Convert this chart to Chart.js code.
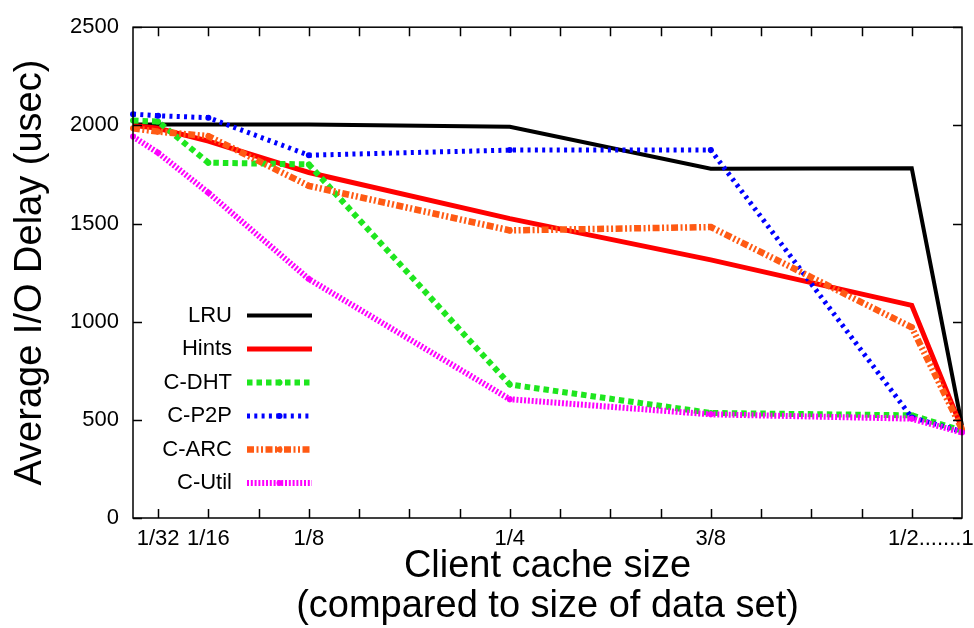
<!DOCTYPE html>
<html>
<head>
<meta charset="utf-8">
<script src="https://cdn.jsdelivr.net/npm/chart.js@4.4.1/dist/chart.umd.min.js"></script>
<style>
    html, body { margin: 0; padding: 0; background: #fff; }
</style>
</head>
<body>
<canvas id="chart" width="974" height="628"></canvas>
<script>
// client cache size, compared to the size of the data set
const cacheSizes = ["1/64", "1/32", "1/16", "1/8", "1/4", "3/8", "1/2", "1"];
// where each size sits on the x axis, counted in 1/32 steps ("1" is drawn one step past 1/2)
const cacheSteps = [0.5, 1, 2, 4, 8, 12, 16, 17];

// average I/O delay (usec)
const lru    = [2005, 2005, 2005, 2005, 1993, 1779, 1781, 470];
const hints  = [2000, 1985, 1920, 1760, 1525, 1315, 1083, 455];
const cDht   = [2025, 2019, 1810, 1801, 680, 535, 523, 445];
const cP2p   = [2057, 2049, 2039, 1848, 1874, 1874, 512, 440];
const cArc   = [1985, 1968, 1945, 1692, 1465, 1482, 971, 452];
const cUtil  = [1943, 1860, 1657, 1217, 605, 528, 506, 435];

// the last label covers both 1/2 and 1, so it sits between them
const xTickSteps  = [1, 2, 4, 8, 12, 16.38];
const xTickLabels = ["1/32", "1/16", "1/8", "1/4", "3/8", "1/2.......1"];
const yTicks = [0, 500, 1000, 1500, 2000, 2500];

const FONT = "'Liberation Sans', Arial, Helvetica, sans-serif";

const series = [
    { label: "LRU",    data: lru,   color: "#000000", width: 4,   dash: [],                     dot: 0 },
    { label: "Hints",  data: hints, color: "#ff0000", width: 5,   dash: [],                     dot: 0 },
    { label: "C-DHT",  data: cDht,  color: "#1ee61e", width: 6,   dash: [5.5, 4],               dot: 3 },
    { label: "C-P2P",  data: cP2p,  color: "#0000ff", width: 5,   dash: [3, 4.3],               dot: 3 },
    { label: "C-ARC",  data: cArc,  color: "#ff5a14", width: 6.5, dash: [7, 2.5, 2, 2.5, 2, 2.5], dot: 3 },
    { label: "C-Util", data: cUtil, color: "#ff00ff", width: 6,   dash: [2, 1.8],               dot: 3 }
];

const toPoints = (values) => values.map((v, i) => ({ x: cacheSteps[i], y: v }));

// gnuplot-like frame: closed box, inward ticks on all four sides, legend inside the plot
const framePlugin = {
    id: "frame",
    afterDraw(chart) {
        const { ctx, chartArea: a, scales: { x, y } } = chart;
        ctx.save();
        ctx.strokeStyle = "#000";
        ctx.lineWidth = 1.5;
        ctx.setLineDash([]);
        ctx.strokeRect(a.left, a.top, a.right - a.left, a.bottom - a.top);

        ctx.beginPath();
        for (let s = 1; s <= 16; s++) {
            const px = Math.round(x.getPixelForValue(s)) + 0.5;
            ctx.moveTo(px, a.bottom); ctx.lineTo(px, a.bottom - 9);
            ctx.moveTo(px, a.top);    ctx.lineTo(px, a.top + 9);
        }
        yTicks.forEach(v => {
            const py = Math.round(y.getPixelForValue(v)) + 0.5;
            ctx.moveTo(a.left, py);  ctx.lineTo(a.left + 9, py);
            ctx.moveTo(a.right, py); ctx.lineTo(a.right - 9, py);
        });
        ctx.stroke();

        // legend
        ctx.font = "22px " + FONT;
        ctx.textAlign = "right";
        ctx.textBaseline = "middle";
        chart.data.datasets.forEach((ds, i) => {
            const ly = 315.5 + i * 33.5;
            ctx.fillStyle = "#000";
            ctx.fillText(ds.label, 232, ly);
            ctx.strokeStyle = ds.borderColor;
            ctx.lineWidth = ds.borderWidth;
            ctx.setLineDash(ds.borderDash);
            ctx.beginPath();
            ctx.moveTo(247, ly);
            ctx.lineTo(312, ly);
            ctx.stroke();
            ctx.setLineDash([]);
            if (ds.pointRadius > 0) {
                ctx.fillStyle = ds.borderColor;
                ctx.beginPath();
                ctx.arc(279.5, ly, ds.pointRadius, 0, Math.PI * 2);
                ctx.fill();
            }
        });
        ctx.restore();
    }
};

const createChart = () => {
    const ctx = document.querySelector("canvas#chart");

    new Chart(ctx, {
        type: "line",
        data: {
            datasets: series.map((s, i) => ({
                label: s.label,
                data: toPoints(s.data),
                borderColor: s.color,
                backgroundColor: s.color,
                borderWidth: s.width,
                borderDash: s.dash,
                pointRadius: s.dot,
                pointBorderWidth: 0,
                pointBackgroundColor: s.color,
                tension: 0,
                fill: false,
                clip: false,
                order: series.length - i
            }))
        },
        plugins: [framePlugin],
        options: {
            responsive: false,
            animation: false,
            devicePixelRatio: 1,
            layout: { padding: { top: 21, right: 12, left: 0, bottom: 0 } },
            plugins: {
                legend: { display: false },
                tooltip: { enabled: false }
            },
            scales: {
                x: {
                    type: "linear",
                    min: 0.5,
                    max: 17,
                    afterBuildTicks: (axis) => {
                        axis.ticks = xTickSteps.map(v => ({ value: v }));
                    },
                    afterFit: (axis) => {
                        axis.height = 110;
                        axis.paddingLeft = 0;
                        axis.paddingRight = 0;
                    },
                    grid: { display: false, drawTicks: false },
                    border: { display: false },
                    ticks: {
                        autoSkip: false,
                        maxRotation: 0,
                        minRotation: 0,
                        padding: 8,
                        color: "#000",
                        font: { family: FONT, size: 22 },
                        callback: (v) => xTickLabels[xTickSteps.indexOf(v)]
                    },
                    title: {
                        display: true,
                        text: ["Client cache size", "(compared to size of data set)"],
                        color: "#000",
                        font: { family: FONT, size: 38, lineHeight: 1.05 },
                        padding: { top: 0, bottom: 2 }
                    }
                },
                y: {
                    min: 0,
                    max: 2500,
                    afterBuildTicks: (axis) => {
                        axis.ticks = yTicks.map(v => ({ value: v }));
                    },
                    afterFit: (axis) => { axis.width = 133; },
                    grid: { display: false, drawTicks: false },
                    border: { display: false },
                    ticks: {
                        padding: 14,
                        color: "#000",
                        font: { family: FONT, size: 22 },
                        callback: (v) => String(v)
                    },
                    title: {
                        display: true,
                        text: "Average I/O Delay (usec)",
                        color: "#000",
                        font: { family: FONT, size: 38 },
                        padding: { top: 8, bottom: 0 }
                    }
                }
            }
        }
    });
};

createChart();
</script>
</body>
</html>
